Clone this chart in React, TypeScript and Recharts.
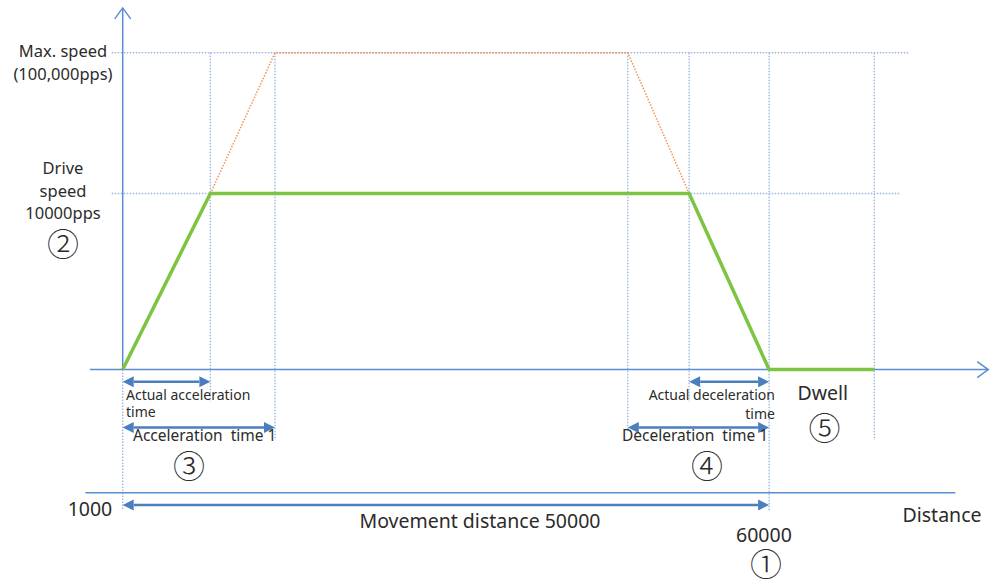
import { ComposedChart, Line, Scatter, XAxis, YAxis, ReferenceLine } from 'recharts';

// diagram extents (distance / speed units)
const X_DOMAIN = [-10200, 80800];
const Y_DOMAIN = [-12300, 21000];

// distance marks
const START = 1000;
const ACT_ACC_END = 9000;
const ACC_END = 14900;
const DEC_START = 47100;
const ACT_DEC_START = 52700;
const END = 60000;
const DWELL_END = 69600;
const AXIS_END = 80000;

// speed levels (schematic, not to scale)
const DRIVE = 10000;
const MAX = 18000;
const AXIS_TOP = 20550;

const driveProfile = [
  { x: START, y: 0 },
  { x: ACT_ACC_END, y: DRIVE },
  { x: ACT_DEC_START, y: DRIVE },
  { x: END, y: 0 },
  { x: DWELL_END, y: 0 },
];

const maxProfile = [
  { x: ACT_ACC_END, y: DRIVE },
  { x: ACC_END, y: MAX },
  { x: DEC_START, y: MAX },
  { x: ACT_DEC_START, y: DRIVE },
];

const hGrid = [
  { y: MAX, from: 0, to: 72700 },
  { y: DRIVE, from: 0, to: 72000 },
];

const vGrid = [
  { x: START, top: 0, bottom: -8000 },
  { x: ACT_ACC_END, top: MAX, bottom: -1800 },
  { x: ACC_END, top: MAX, bottom: -4000 },
  { x: DEC_START, top: MAX, bottom: -3500 },
  { x: ACT_DEC_START, top: MAX, bottom: -1800 },
  { x: END, top: MAX, bottom: -8000 },
  { x: DWELL_END, top: MAX, bottom: -4000 },
];

const dimArrows = [
  { y: -700, from: START, to: ACT_ACC_END },
  { y: -700, from: ACT_DEC_START, to: END },
  { y: -3300, from: START, to: ACC_END },
  { y: -3300, from: DEC_START, to: END },
  { y: -7700, from: START, to: END },
];

const baseLine = { y: -7000, from: -2400, to: 77000 };

const labels = [
  { text: 'Max. speed', x: -4450, y: 18150, kind: 'side' },
  { text: '(100,000pps)', x: -4450, y: 16850, kind: 'side' },
  { text: 'Drive', x: -4450, y: 11500, kind: 'side' },
  { text: 'speed', x: -4450, y: 10200, kind: 'side' },
  { text: '10000pps', x: -4450, y: 8900, kind: 'side' },
  { text: '②', x: -4450, y: 7250, kind: 'circle' },
  { text: 'Actual acceleration', x: 1300, y: -1390, kind: 'smallStart' },
  { text: 'time', x: 1300, y: -2410, kind: 'smallStart' },
  { text: 'Acceleration  time 1', x: 1940, y: -3700, kind: 'midStart' },
  { text: '③', x: 7050, y: -5350, kind: 'circle' },
  { text: 'Actual deceleration', x: 60530, y: -1390, kind: 'smallEnd' },
  { text: 'time', x: 60530, y: -2470, kind: 'smallEnd' },
  { text: 'Deceleration  time 1', x: 46570, y: -3700, kind: 'midStart' },
  { text: '④', x: 54330, y: -5350, kind: 'circle' },
  { text: 'Dwell', x: 64900, y: -1280, kind: 'big' },
  { text: '⑤', x: 65050, y: -3180, kind: 'circle' },
  { text: '1000', x: -1990, y: -7870, kind: 'big' },
  { text: 'Movement distance 50000', x: 33610, y: -8550, kind: 'big' },
  { text: 'Distance', x: 75780, y: -8210, kind: 'big' },
  { text: '60000', x: 59530, y: -9400, kind: 'big' },
  { text: '①', x: 59710, y: -10950, kind: 'circle' },
];

const FONT = '"Noto Sans", "DejaVu Sans", sans-serif';
const AXIS_BLUE = '#5B8DD3';
const ARROW_BLUE = '#4A7EBF';
const GRID_BLUE = '#9EB7E0';

const LABEL_STYLES: Record<string, { size: number; anchor: 'start' | 'middle' | 'end'; font?: string; weight?: number }> = {
  side: { size: 16.5, anchor: 'middle' },
  circle: { size: 32, anchor: 'middle', font: '"Noto Sans CJK JP", sans-serif', weight: 300 },
  smallStart: { size: 14, anchor: 'start' },
  smallEnd: { size: 14, anchor: 'end' },
  midStart: { size: 15.5, anchor: 'start' },
  big: { size: 19.5, anchor: 'middle' },
};

const LabelShape = (props: any) => {
  const { cx, cy, payload } = props;
  const st = LABEL_STYLES[payload.kind];
  return (
    <text
      x={cx}
      y={cy}
      textAnchor={st.anchor}
      dominantBaseline="central"
      fontSize={st.size}
      fontFamily={st.font || FONT}
      fontWeight={st.weight || 400}
      fill="#2b2b2b"
      xmlSpace="preserve"
      style={{ whiteSpace: 'pre' }}
    >
      {payload.text}
    </text>
  );
};

// solid axis with an open chevron at the second end
const AxisArrow = (props: any) => {
  const { x1, y1, x2, y2 } = props;
  const len = Math.hypot(x2 - x1, y2 - y1) || 1;
  const ux = (x2 - x1) / len;
  const uy = (y2 - y1) / len;
  const h = 11;
  const w = 8;
  const bx = x2 - ux * h;
  const by = y2 - uy * h;
  return (
    <g>
      <line x1={x1} y1={y1} x2={x2} y2={y2} stroke={AXIS_BLUE} strokeWidth={1.5} />
      <polyline
        points={`${bx - uy * w},${by + ux * w} ${x2},${y2} ${bx + uy * w},${by - ux * w}`}
        fill="none"
        stroke={AXIS_BLUE}
        strokeWidth={1.5}
      />
    </g>
  );
};

// horizontal double-headed dimension arrow
const DimArrow = (props: any) => {
  const { x1, y1, x2, y2 } = props;
  const h = 11;
  const w = 5.5;
  return (
    <g>
      <line x1={x1 + h} y1={y1} x2={x2 - h} y2={y2} stroke={ARROW_BLUE} strokeWidth={2.5} />
      <polygon points={`${x1},${y1} ${x1 + h},${y1 - w} ${x1 + h},${y1 + w}`} fill={ARROW_BLUE} />
      <polygon points={`${x2},${y2} ${x2 - h},${y2 - w} ${x2 - h},${y2 + w}`} fill={ARROW_BLUE} />
    </g>
  );
};

export default function App() {
  return (
    <div style={{ width: 997, height: 586, background: '#fff' }}>
      <style>{'body{margin:0}'}</style>
      <ComposedChart width={997} height={586} margin={{ top: 0, right: 0, bottom: 0, left: 0 }}>
        <XAxis type="number" dataKey="x" domain={X_DOMAIN} hide />
        <YAxis type="number" dataKey="y" domain={Y_DOMAIN} hide width={0} />

        {/* dotted guide lines */}
        {hGrid.map((g, i) => (
          <ReferenceLine
            key={`h-${i}`}
            segment={[{ x: g.from, y: g.y }, { x: g.to, y: g.y }]}
            stroke={GRID_BLUE}
            strokeWidth={1.4}
            strokeDasharray="1.5 1.5"
          />
        ))}
        {vGrid.map((g, i) => (
          <ReferenceLine
            key={`v-${i}`}
            segment={[{ x: g.x, y: g.top }, { x: g.x, y: g.bottom }]}
            stroke={GRID_BLUE}
            strokeWidth={1.4}
            strokeDasharray="1.5 1.5"
          />
        ))}

        {/* axes */}
        <ReferenceLine segment={[{ x: X_DOMAIN[0] + 8200, y: 0 }, { x: AXIS_END, y: 0 }]} shape={AxisArrow} />
        <ReferenceLine segment={[{ x: START, y: 0 }, { x: START, y: AXIS_TOP }]} shape={AxisArrow} />

        {/* baseline under the annotations */}
        <ReferenceLine
          segment={[{ x: baseLine.from, y: baseLine.y }, { x: baseLine.to, y: baseLine.y }]}
          stroke={AXIS_BLUE}
          strokeWidth={1.5}
        />

        {dimArrows.map((a, i) => (
          <ReferenceLine
            key={`a-${i}`}
            segment={[{ x: a.from, y: a.y }, { x: a.to, y: a.y }]}
            shape={DimArrow}
          />
        ))}

        <Line
          data={maxProfile}
          dataKey="y"
          type="linear"
          stroke="#F0965A"
          strokeWidth={1.5}
          strokeDasharray="1.5 1.5"
          dot={false}
          activeDot={false}
          isAnimationActive={false}
        />
        <Line
          data={driveProfile}
          dataKey="y"
          type="linear"
          stroke="#7DC443"
          strokeWidth={3.5}
          dot={false}
          activeDot={false}
          isAnimationActive={false}
        />

        <Scatter data={labels} dataKey="y" shape={LabelShape} isAnimationActive={false} />
      </ComposedChart>
    </div>
  );
}
